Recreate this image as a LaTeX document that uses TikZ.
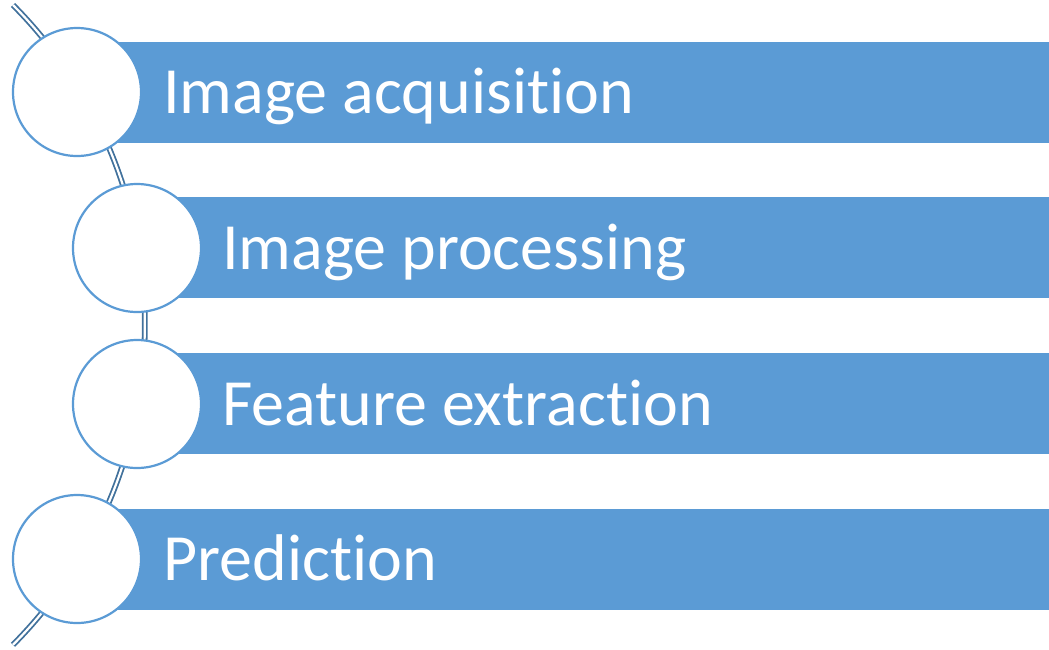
\documentclass[tikz,border=0pt]{standalone}
\usepackage{fontspec}
\setmainfont[Ligatures={NoCommon}]{Carlito}
\definecolor{barblue}{HTML}{5B9BD5}
\definecolor{curveblue}{HTML}{41719C}
\begin{document}
\begin{tikzpicture}[x=1pt,y=-1pt,
  ring/.style={circle,draw=barblue,line width=2.2pt,fill=white,minimum size=128pt,inner sep=0pt},
  lab/.style={anchor=base west,text=white,font=\fontsize{66}{78}\selectfont,inner sep=0pt}]
\useasboundingbox (0,0) rectangle (1049,649);
% spine arc (center at (-309,325), radius 454)
\coordinate (top) at (13,5);
\draw[curveblue,double=white,double distance=2.2pt,line width=1.8pt]
  (top) arc[start angle=-44.8,end angle=44.8,radius=454] coordinate (bot);
% bars
\fill[barblue] (77,42) rectangle (1049,143);
\fill[barblue] (137,197) rectangle (1049,298);
\fill[barblue] (137,353) rectangle (1049,454);
\fill[barblue] (77,509) rectangle (1049,610);
% circles
\node[ring] (c1) at (77,92) {};
\node[ring] (c2) at (137,248) {};
\node[ring] (c3) at (137,404) {};
\node[ring] (c4) at (77,559) {};
% labels
\node[lab] (t1) at (163,113) {Image acquisition};
\node[lab] (t2) at (222,269) {Image processing};
\node[lab] (t3) at (222,425) {Feature extraction};
\node[lab] (t4) at (163,580) {Prediction};
\end{tikzpicture}
\end{document}
